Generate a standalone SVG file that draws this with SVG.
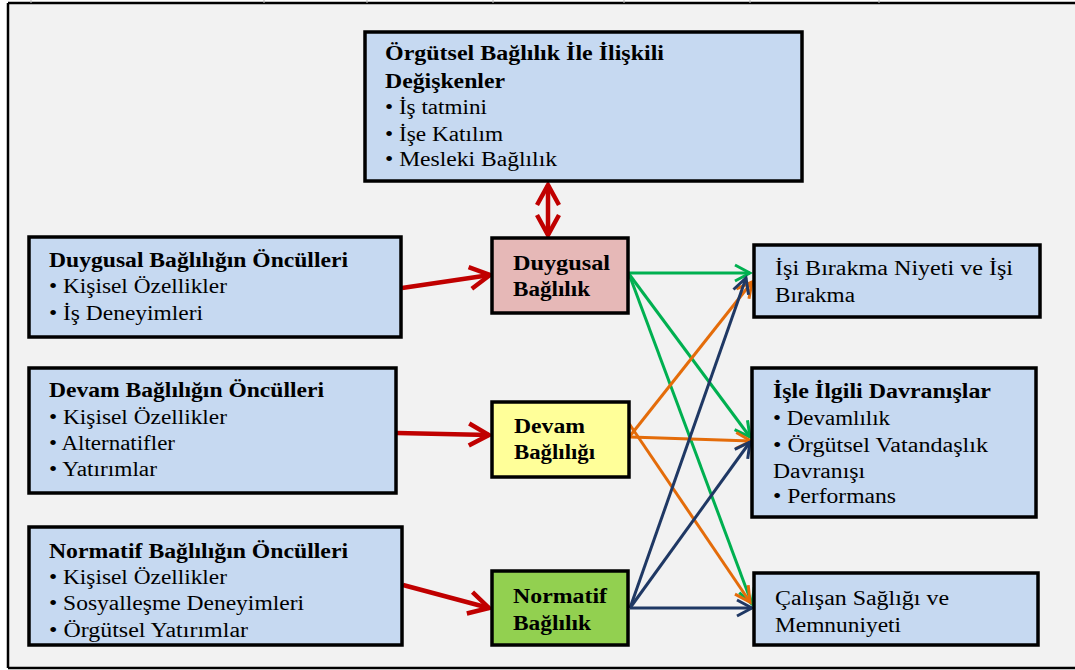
<svg xmlns="http://www.w3.org/2000/svg" width="1075" height="670" viewBox="0 0 1075 670" font-family="Liberation Serif, Times New Roman, DejaVu Serif, serif" font-size="20">
<defs>
<style>
.box{stroke:#000;stroke-width:3.5}
.blue{fill:#c6d9f1}
.b{font-weight:bold}
text{fill:#000}
.c{fill:none;stroke-width:3}
.red{fill:none;stroke:#c00000;stroke-width:4.5}
</style>
<marker id="mr" markerUnits="userSpaceOnUse" markerWidth="26" markerHeight="28" viewBox="0 0 26 28" refX="23" refY="14" orient="auto-start-reverse"><path d="M3,3 L23,14 L3,25" fill="none" stroke="#c00000" stroke-width="4.5"/></marker>
<marker id="mg" markerUnits="userSpaceOnUse" markerWidth="20" markerHeight="20" viewBox="0 0 20 20" refX="17" refY="10" orient="auto"><path d="M2,2 L17,10 L2,18" fill="none" stroke="#00b050" stroke-width="3"/></marker>
<marker id="mo" markerUnits="userSpaceOnUse" markerWidth="20" markerHeight="20" viewBox="0 0 20 20" refX="17" refY="10" orient="auto"><path d="M2,2 L17,10 L2,18" fill="none" stroke="#e46c0a" stroke-width="3"/></marker>
<marker id="mn" markerUnits="userSpaceOnUse" markerWidth="20" markerHeight="20" viewBox="0 0 20 20" refX="17" refY="10" orient="auto"><path d="M2,2 L17,10 L2,18" fill="none" stroke="#1f3864" stroke-width="3"/></marker>
</defs>
<rect x="0" y="0" width="1075" height="670" fill="#ffffff"/>
<rect x="8" y="3" width="1070" height="665" fill="#f2f2f2"/>
<g stroke="#000" stroke-width="2.5">
<line x1="8" y1="3" x2="1075" y2="3"/>
<line x1="8" y1="3" x2="8" y2="668"/>
<line x1="8" y1="668" x2="1075" y2="668"/>
</g>
<g stroke="#bbbbbb" stroke-width="1">
<line x1="31" y1="0" x2="31" y2="3"/><line x1="264" y1="0" x2="264" y2="3"/><line x1="367" y1="0" x2="367" y2="3"/><line x1="493" y1="0" x2="493" y2="3"/><line x1="624" y1="0" x2="624" y2="3"/><line x1="750" y1="0" x2="750" y2="3"/><line x1="879" y1="0" x2="879" y2="3"/>
</g>

<g id="connectors">
<line class="red" x1="548" y1="185" x2="548" y2="235" marker-start="url(#mr)" marker-end="url(#mr)"/>
<line class="red" x1="402" y1="288" x2="490" y2="275" marker-end="url(#mr)"/>
<line class="red" x1="397" y1="433" x2="489" y2="435" marker-end="url(#mr)"/>
<line class="red" x1="403" y1="585" x2="489" y2="608" marker-end="url(#mr)"/>

<line class="c" stroke="#00b050" x1="629" y1="273" x2="750" y2="273" marker-end="url(#mg)"/>
<line class="c" stroke="#00b050" x1="629" y1="274" x2="750" y2="437" marker-end="url(#mg)"/>
<line class="c" stroke="#00b050" x1="629" y1="274" x2="752" y2="604" marker-end="url(#mg)"/>

<line class="c" stroke="#e46c0a" x1="630" y1="436" x2="752" y2="282" marker-end="url(#mo)"/>
<line class="c" stroke="#e46c0a" x1="630" y1="437" x2="751" y2="441" marker-end="url(#mo)"/>
<line class="c" stroke="#e46c0a" x1="628" y1="422" x2="750" y2="602" marker-end="url(#mo)"/>

<line class="c" stroke="#1f3864" x1="630" y1="608" x2="746" y2="278" marker-end="url(#mn)"/>
<line class="c" stroke="#1f3864" x1="630" y1="608" x2="750" y2="442" marker-end="url(#mn)"/>
<line class="c" stroke="#1f3864" x1="630" y1="608" x2="752" y2="608" marker-end="url(#mn)"/>
</g>

<g id="top-box" lengthAdjust="spacingAndGlyphs">
<rect class="box blue" x="365" y="32" width="437" height="149"/>
<text class="b" x="385" y="60" textLength="279" lengthAdjust="spacingAndGlyphs">Örgütsel Bağlılık İle İlişkili</text>
<text class="b" x="385" y="88" textLength="120" lengthAdjust="spacingAndGlyphs">Değişkenler</text>
<text x="385" y="114" textLength="102" lengthAdjust="spacingAndGlyphs">• İş tatmini</text>
<text x="385" y="141" textLength="118" lengthAdjust="spacingAndGlyphs">• İşe Katılım</text>
<text x="385" y="166" textLength="172" lengthAdjust="spacingAndGlyphs">• Mesleki Bağlılık</text>
</g>

<g id="left-1">
<rect class="box blue" x="29" y="237" width="372" height="100"/>
<text class="b" x="49" y="267" textLength="299" lengthAdjust="spacingAndGlyphs">Duygusal Bağlılığın  Öncülleri</text>
<text x="49" y="293" textLength="178" lengthAdjust="spacingAndGlyphs">• Kişisel Özellikler</text>
<text x="49" y="320" textLength="154" lengthAdjust="spacingAndGlyphs">• İş Deneyimleri</text>
</g>

<g id="left-2">
<rect class="box blue" x="29" y="368" width="367" height="125"/>
<text class="b" x="49" y="397" textLength="275" lengthAdjust="spacingAndGlyphs">Devam Bağlılığın  Öncülleri</text>
<text x="49" y="424" textLength="178" lengthAdjust="spacingAndGlyphs">• Kişisel Özellikler</text>
<text x="49" y="450" textLength="126" lengthAdjust="spacingAndGlyphs">• Alternatifler</text>
<text x="49" y="476" textLength="108" lengthAdjust="spacingAndGlyphs">• Yatırımlar</text>
</g>

<g id="left-3">
<rect class="box blue" x="29" y="527" width="373" height="118"/>
<text class="b" x="49" y="558" textLength="299" lengthAdjust="spacingAndGlyphs">Normatif Bağlılığın  Öncülleri</text>
<text x="49" y="584" textLength="178" lengthAdjust="spacingAndGlyphs">• Kişisel Özellikler</text>
<text x="49" y="610" textLength="255" lengthAdjust="spacingAndGlyphs">• Sosyalleşme Deneyimleri</text>
<text x="49" y="637" textLength="199" lengthAdjust="spacingAndGlyphs">• Örgütsel Yatırımlar</text>
</g>

<g id="duygusal">
<rect class="box" fill="#e6b8b7" x="492" y="238" width="136" height="75"/>
<text class="b" x="513" y="270" textLength="97" lengthAdjust="spacingAndGlyphs">Duygusal</text>
<text class="b" x="513" y="296" textLength="77" lengthAdjust="spacingAndGlyphs">Bağlılık</text>
</g>

<g id="devam">
<rect class="box" fill="#ffff99" x="492" y="402" width="137" height="75"/>
<text class="b" x="514" y="433" textLength="71" lengthAdjust="spacingAndGlyphs">Devam</text>
<text class="b" x="514" y="459" textLength="81" lengthAdjust="spacingAndGlyphs">Bağlılığı</text>
</g>

<g id="normatif">
<rect class="box" fill="#92d050" x="492" y="571" width="136" height="74"/>
<text class="b" x="513" y="603" textLength="94" lengthAdjust="spacingAndGlyphs">Normatif</text>
<text class="b" x="513" y="630" textLength="78" lengthAdjust="spacingAndGlyphs">Bağlılık</text>
</g>

<g id="right-1">
<rect class="box blue" x="754" y="245" width="286" height="72"/>
<text x="775" y="275" textLength="238" lengthAdjust="spacingAndGlyphs">İşi Bırakma Niyeti ve İşi</text>
<text x="775" y="302" textLength="80" lengthAdjust="spacingAndGlyphs">Bırakma</text>
</g>

<g id="right-2">
<rect class="box blue" x="752" y="368" width="284" height="149"/>
<text class="b" x="773" y="398" textLength="218" lengthAdjust="spacingAndGlyphs">İşle İlgili Davranışlar</text>
<text x="773" y="425" textLength="117" lengthAdjust="spacingAndGlyphs">• Devamlılık</text>
<text x="773" y="452" textLength="215" lengthAdjust="spacingAndGlyphs">• Örgütsel Vatandaşlık</text>
<text x="773" y="478" textLength="92" lengthAdjust="spacingAndGlyphs">Davranışı</text>
<text x="773" y="503" textLength="123" lengthAdjust="spacingAndGlyphs">• Performans</text>
</g>

<g id="right-3">
<rect class="box blue" x="754" y="573" width="284" height="72"/>
<text x="775" y="605" textLength="174" lengthAdjust="spacingAndGlyphs">Çalışan Sağlığı ve</text>
<text x="775" y="632" textLength="126" lengthAdjust="spacingAndGlyphs">Memnuniyeti</text>
</g>
</svg>
